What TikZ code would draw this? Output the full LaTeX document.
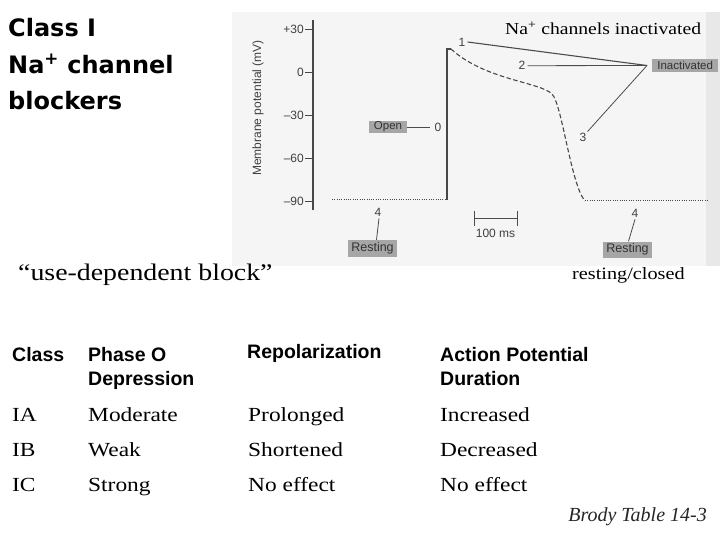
\documentclass[tikz,border=0pt]{standalone}
\usepackage{fontspec}
\setmainfont{Liberation Serif}
\newfontfamily\srw[FakeStretch=1.17]{Liberation Serif}
\newfontfamily\ars{Liberation Sans}
\newfontfamily\cmc{DejaVu Sans}
\begin{document}
\begin{tikzpicture}[x=1pt,y=-1pt,
  lab/.style={font=\ars\fontsize{12}{14}\selectfont, text=black!75, inner sep=0pt},
  gbox/.style={fill=black!35, text=black!80, font=\ars\fontsize{11.5}{13}\selectfont, inner sep=0pt},
  trace/.style={draw=black!72, line width=1.1pt},
  lead/.style={draw=black!70, line width=0.8pt},
  hdr/.style={font=\ars\bfseries\fontsize{19.5}{22}\selectfont, anchor=base west, inner sep=0pt},
  cell/.style={font=\srw\fontsize{20}{24}\selectfont, anchor=base west, inner sep=0pt},
  big/.style={font=\cmc\bfseries\fontsize{24}{28}\selectfont, anchor=base west, inner sep=0pt},
  tms/.style={anchor=base west, inner sep=0pt},
]
\useasboundingbox (0,0) rectangle (720,540);
\fill[white] (0,0) rectangle (720,540);
% photo background
\fill[black!4] (232,12) rectangle (720,266);
\fill[black!9] (706,12) rectangle (720,266);

% left title
\node[big] (t1) at (8,36.7) {Class I};
\node[big] (t2) at (8,74) {Na\textsuperscript{+} channel};
\node[big] (t3) at (8,110) {blockers};

% axis
\draw[trace] (313,20) -- (313,210);
\foreach \yy/\tt [count=\i] in {29/+30,72/0,115/–30,158/–60,201/–90}{
  \draw[trace, line width=0.8pt] (305,\yy) -- (313,\yy);
  \node[lab, anchor=east] (tk\i) at (304,\yy) {\tt};
}
\node[lab, rotate=90] (ylab) at (258,108) {Membrane potential (mV)};

% trace
\coordinate (r0) at (332,200);
\coordinate (up0) at (447,200);
\coordinate (top) at (447,49);
\coordinate (top2) at (451,49);
\coordinate (plat) at (552,94);
\coordinate (bot) at (585,201);
\coordinate (r1) at (707,201);
\draw[trace, dash pattern=on 1pt off 1.3pt, line width=1pt] (r0) -- (up0);
\draw[trace] (up0) -- (top) -- (top2);
\draw[trace, dash pattern=on 4.5pt off 2.5pt] (top2) .. controls (485,80) and (540,82) .. (plat)
   .. controls (562,104) and (571,185) .. (bot);
\draw[trace, dash pattern=on 1pt off 1.3pt, line width=1pt] (bot) -- (r1);

% labels
\node[gbox, minimum width=66pt, minimum height=13pt, anchor=west] (inact) at (652,65.5) {Inactivated};
\coordinate (ina) at ([xshift=-5pt]inact.west);
\node[lab] (n1) at (462,42) {1};
\node[lab] (n2) at (522,65.7) {2};
\node[lab] (n3) at (583,137) {3};
\draw[lead, line width=1.1pt] ([xshift=2pt]n1.east) -- (ina);
\draw[lead] ([xshift=2pt]n2.east) -- (ina);
\draw[lead] ([xshift=1pt,yshift=1pt]n3.north east) -- (ina);

\node[gbox, minimum width=38pt, minimum height=12pt] (open) at (388,127) {Open};
\node[lab] (n0) at (438,127) {0};
\draw[lead] (open.east) -- ([xshift=-4pt]n0.west);

\node[gbox, minimum width=49pt, minimum height=17pt, font=\ars\fontsize{12.5}{14}\selectfont] (resta) at (372.5,248.5) {Resting};
\node[lab] (n4a) at (378,212) {4};
\draw[lead] ([xshift=1pt,yshift=-2pt]n4a.south) -- ([xshift=4pt]resta.north);

\node[gbox, minimum width=49pt, minimum height=16pt, font=\ars\fontsize{12.5}{14}\selectfont] (restb) at (627.5,249.5) {Resting};
\node[lab] (n4b) at (635,213) {4};
\draw[lead] ([yshift=-2pt]n4b.south) -- ([xshift=1pt]restb.north);

% scale bar
\coordinate (sb1) at (474,218);
\coordinate (sb2) at (517,218);
\draw[lead] (sb1) -- (sb2);
\draw[lead] ([yshift=-8pt]sb1) -- ([yshift=7pt]sb1);
\draw[lead] ([yshift=-8pt]sb2) -- ([yshift=7pt]sb2);
\node[lab] (sbl) at (495.5,233) {100 ms};

% titles
\node[tms, font=\srw\fontsize{16.8}{20}\selectfont] (ttl) at (505,35) {Na\textsuperscript{+} channels inactivated};
\node[tms, font=\srw\fontsize{17.3}{20}\selectfont] (rc) at (572,279) {resting/closed};
\node[tms, font=\srw\fontsize{23.8}{26}\selectfont] (udb) at (18,280) {“use-dependent block”};

% table headers
\node[hdr] (h1) at (12,361) {Class};
\node[hdr] (h2) at (88,361) {Phase O};
\node[hdr] (h2b) at (88,385) {Depression};
\node[hdr] (h3) at (247,358) {Repolarization};
\node[hdr] (h4) at (440,361) {Action Potential};
\node[hdr] (h4b) at (440,385) {Duration};

% rows
\node[cell] (c11) at (12,421) {IA};
\node[cell] (c12) at (88,421) {Moderate};
\node[cell] (c13) at (248,421) {Prolonged};
\node[cell] (c14) at (440,421) {Increased};
\node[cell] (c21) at (12,456) {IB};
\node[cell] (c22) at (88,456) {Weak};
\node[cell] (c23) at (248,456) {Shortened};
\node[cell] (c24) at (440,456) {Decreased};
\node[cell] (c31) at (12,491) {IC};
\node[cell] (c32) at (88,491) {Strong};
\node[cell] (c33) at (248,491) {No effect};
\node[cell] (c34) at (440,491) {No effect};

\node[anchor=base east, inner sep=0pt, text=black!85, font=\itshape\fontsize{20}{22}\selectfont] (src) at (707,521) {Brody Table 14-3};
\end{tikzpicture}
\end{document}
